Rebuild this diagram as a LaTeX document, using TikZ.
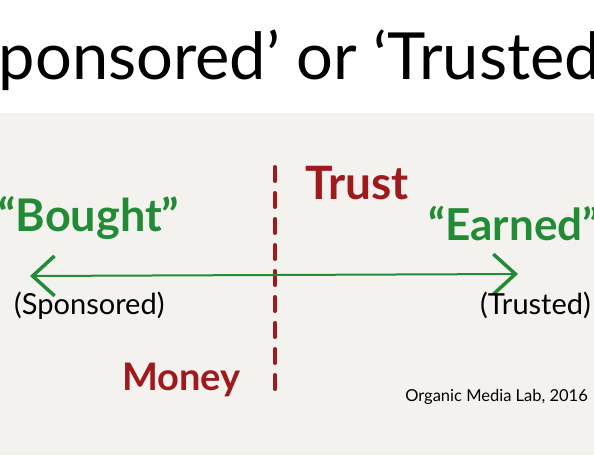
\documentclass[tikz,border=0pt]{standalone}
\usepackage{fontspec}
\setmainfont{Lato}
\usetikzlibrary{arrows.meta}
\definecolor{bg}{HTML}{F4F2EF}
\definecolor{hred}{HTML}{9E1A1C}
\definecolor{hgreen}{HTML}{238A35}
\tikzset{
  hand/.style={font=\fontsize{40}{40}\selectfont\bfseries, inner sep=0pt},
  label/.style={font=\fontsize{29}{29}\selectfont, inner sep=0pt, text=black},
}
\begin{document}
\begin{tikzpicture}[x=1pt,y=-1pt]
\useasboundingbox (0,0) rectangle (594,476);
\clip (0,0) rectangle (594,476);
\fill[white] (0,0) rectangle (594,476);
\fill[bg] (0,113) rectangle (594,455);
\node[anchor=base west, inner sep=0pt, font=\fontsize{65}{65}\selectfont] (title) at (-50,80) {‘Sponsored’ or ‘Trusted’};
% divider
\coordinate (dtop) at (275,167);
\coordinate (dbot) at (275,393);
\draw[hred, line width=4pt, line cap=round, dash pattern=on 14pt off 12pt] (dtop) -- (dbot);
% arrow
\coordinate (aleft) at (30,276);
\coordinate (aright) at (518,274);
\draw[hgreen, line width=2pt, {Straight Barb[length=22pt,width=40pt,line width=3.5pt]}-{Straight Barb[length=22pt,width=40pt,line width=3.5pt]}] (aleft) -- (aright);
% handwritten labels
\node[hand, text=hgreen, anchor=west, font=\fontsize{45}{45}\selectfont\bfseries] (bought) at (-2,218) {“Bought”};
\node[hand, text=hred, anchor=west, font=\fontsize{46}{46}\selectfont\bfseries] (trust) at (305,183) {Trust};
\node[hand, text=hgreen, anchor=west, font=\fontsize{44}{44}\selectfont\bfseries] (earned) at (428,224) {“Earned”};
\node[hand, text=hred, anchor=west, font=\fontsize{38}{38}\selectfont\bfseries] (money) at (122,380) {Money};
% typed labels
\node[label, anchor=base west] (spons) at (14,314) {(Sponsored)};
\node[label, anchor=base east] (trusted) at (591,314) {(Trusted)};
\node[anchor=base east, inner sep=0pt, font=\fontsize{16.5}{16.5}\selectfont] (credit) at (588,401) {Organic Media Lab, 2016};
\end{tikzpicture}
\end{document}
